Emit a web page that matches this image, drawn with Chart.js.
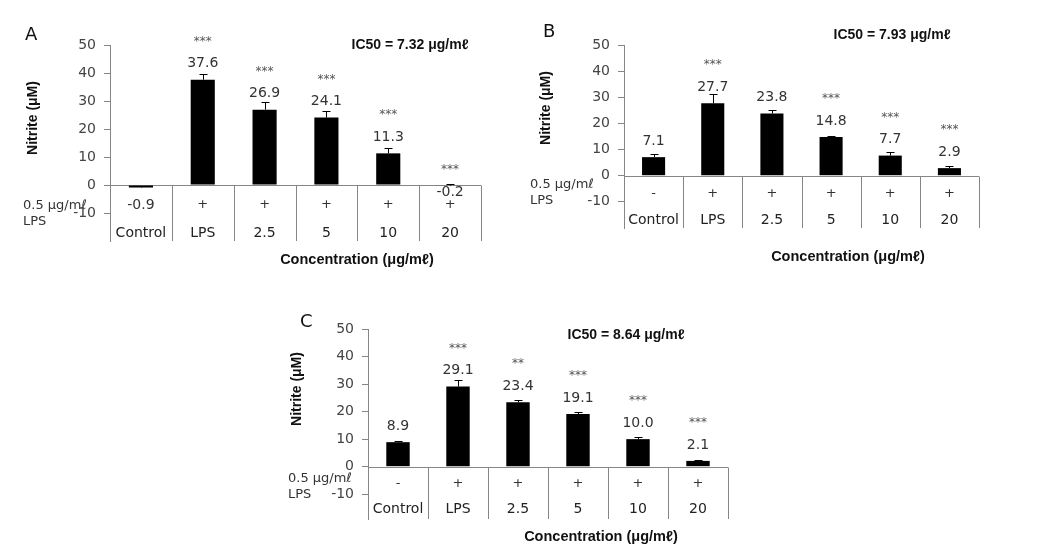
<!DOCTYPE html>
<html>
<head>
<meta charset="utf-8">
<script src="https://cdn.jsdelivr.net/npm/chart.js@4.4.1/dist/chart.umd.min.js"></script>
<style>
  html, body { margin: 0; padding: 0; background: #fff; }
  #wrap { position: relative; width: 1037px; height: 555px; }
  #wrap canvas { position: absolute; left: 0; top: 0; }
</style>
</head>
<body>
<div id="wrap">
  <canvas id="panelA" width="1037" height="555"></canvas>
  <canvas id="panelB" width="1037" height="555"></canvas>
  <canvas id="panelC" width="1037" height="555"></canvas>
</div>
<script>
// values (nitrite, uM)
const categories = ['Control', 'LPS', '2.5', '5', '10', '20'];
const lpsSigns = ['-', '+', '+', '+', '+', '+'];

const nitriteA = [-0.9, 37.6, 26.9, 24.1, 11.3, -0.2];
const errA = [0.4, 1.9, 2.9, 2.3, 1.8, 0.5];
const starsA = ['', '***', '***', '***', '***', '***'];

const nitriteB = [7.1, 27.7, 23.8, 14.8, 7.7, 2.9];
const errB = [1.1, 3.4, 1.3, 0.3, 1.2, 0.8];
const starsB = ['', '***', '', '***', '***', '***'];

const nitriteC = [8.9, 29.1, 23.4, 19.1, 10.0, 2.1];
const errC = [0.6, 2.4, 0.8, 0.6, 0.8, 0.4];
const starsC = ['', '***', '**', '***', '***', '***'];

const ic50 = ['7.32', '7.93', '8.64'];
const yMax = 50;
const yStep = 10;

const W = 1037, H = 555, AXIS_W = 40;
const GREY = '#868686';
const FONT = 'DejaVu Sans';
const BOLD = 'Liberation Sans';

const panels = [
  { id: 'panelA', letter: 'A', values: nitriteA, errors: errA, stars: starsA, ic50: ic50[0], yMin: -20,
    box: { left: 110, right: 481, top: 45, bottom: 241 },
    letterAt: [25, 35], ic50At: [410, 45], yTitleAt: [33, 118], xTitleAt: [357, 260],
    lpsAt: [23, 206], signGap: 20, catGap: 48 },
  { id: 'panelB', letter: 'B', values: nitriteB, errors: errB, stars: starsB, ic50: ic50[1], yMin: -20,
    box: { left: 624, right: 979, top: 45, bottom: 228 },
    letterAt: [543, 32], ic50At: [892, 35], yTitleAt: [546, 108], xTitleAt: [848, 257],
    lpsAt: [530, 185], signGap: 18, catGap: 45 },
  { id: 'panelC', letter: 'C', values: nitriteC, errors: errC, stars: starsC, ic50: ic50[2], yMin: -19,
    box: { left: 368, right: 728, top: 329, bottom: 519 },
    letterAt: [300, 322], ic50At: [626, 335], yTitleAt: [297, 389], xTitleAt: [601, 537],
    lpsAt: [288, 479], signGap: 17, catGap: 43 }
];

function text(ctx, str, x, y, font, color, align) {
  ctx.font = font;
  ctx.fillStyle = color;
  ctx.textAlign = align || 'center';
  ctx.textBaseline = 'middle';
  ctx.fillText(str, x, y);
}

function decor(p) {
  return {
    id: 'decor' + p.letter,
    beforeDatasetsDraw(chart) {
      const { ctx, chartArea, scales: { x, y } } = chart;
      const y0 = Math.round(y.getPixelForValue(0)) + 0.5;
      const half = (x.getPixelForValue(1) - x.getPixelForValue(0)) / 2;
      ctx.save();
      ctx.strokeStyle = GREY;
      ctx.lineWidth = 1;
      ctx.beginPath();
      ctx.moveTo(chartArea.left, y0);
      ctx.lineTo(chartArea.right, y0);
      // cell separators under the zero line
      categories.forEach((c, i) => {
        const ex = Math.round(x.getPixelForValue(i) + half) + 0.5;
        ctx.moveTo(ex, y0);
        ctx.lineTo(ex, chartArea.bottom);
      });
      ctx.stroke();
      ctx.restore();
    },
    afterDatasetsDraw(chart) {
      const { ctx, scales: { x, y } } = chart;
      const y0 = y.getPixelForValue(0);
      const signY = y0 + p.signGap;
      const catY = y0 + p.catGap;
      ctx.save();

      // error bars (plus direction)
      ctx.strokeStyle = '#000';
      ctx.lineWidth = 1;
      p.values.forEach((v, i) => {
        const cx = Math.round(x.getPixelForValue(i)) + 0.5;
        const yb = y.getPixelForValue(v);
        const yt = Math.round(y.getPixelForValue(v + p.errors[i])) + 0.5;
        ctx.beginPath();
        ctx.moveTo(cx, yb);
        ctx.lineTo(cx, yt);
        ctx.moveTo(cx - 4, yt);
        ctx.lineTo(cx + 4, yt);
        ctx.stroke();
      });

      // value labels, significance stars, LPS row, category row
      p.values.forEach((v, i) => {
        const cx = x.getPixelForValue(i);
        let ly, sy, sign = lpsSigns[i];
        if (v >= 0) {
          ly = y.getPixelForValue(v) - 16;
          sy = ly - 24;
        } else if (Math.abs(v) >= 0.5) {
          ly = signY;          // label takes the LPS cell
          sy = y0 - 17;
          sign = '';
        } else {
          ly = y0 + 7;
          sy = y0 - 17;
        }
        text(ctx, v.toFixed(1), cx, ly, '14px "' + FONT + '"', '#333');
        if (p.stars[i]) text(ctx, p.stars[i], cx, sy + 2, '12px "' + FONT + '"', '#555');
        if (sign) text(ctx, sign, cx, signY, '13px "' + FONT + '"', '#333');
        text(ctx, categories[i], cx, catY, '14px "' + FONT + '"', '#222');
      });

      text(ctx, p.letter, p.letterAt[0], p.letterAt[1], '18px "' + FONT + '"', '#111', 'left');
      text(ctx, 'IC50 = ' + p.ic50 + ' \u03bcg/m\u2113', p.ic50At[0], p.ic50At[1], 'bold 14px "' + BOLD + '"', '#111');
      text(ctx, 'Concentration (\u03bcg/m\u2113)', p.xTitleAt[0], p.xTitleAt[1], 'bold 14.5px "' + BOLD + '"', '#111');
      text(ctx, '0.5 \u03bcg/m\u2113', p.lpsAt[0], p.lpsAt[1], '13px "' + FONT + '"', '#333', 'left');
      text(ctx, 'LPS', p.lpsAt[0], p.lpsAt[1] + 16, '13px "' + FONT + '"', '#333', 'left');

      ctx.translate(p.yTitleAt[0], p.yTitleAt[1]);
      ctx.rotate(-Math.PI / 2);
      text(ctx, 'Nitrite (\u03bcM)', 0, 0, 'bold 14px "' + BOLD + '"', '#111');
      ctx.restore();
    }
  };
}

function makeChart(p) {
  return new Chart(document.getElementById(p.id), {
    type: 'bar',
    data: {
      labels: categories,
      datasets: [{
        data: p.values,
        backgroundColor: '#000',
        borderWidth: 0,
        barPercentage: 0.39,
        categoryPercentage: 1
      }]
    },
    options: {
      responsive: false,
      animation: false,
      events: [],
      layout: {
        padding: {
          left: p.box.left - AXIS_W,
          right: W - p.box.right,
          top: p.box.top,
          bottom: H - p.box.bottom
        }
      },
      plugins: { legend: { display: false }, tooltip: { enabled: false } },
      scales: {
        x: { display: false },
        y: {
          min: p.yMin,
          max: yMax,
          afterFit: s => { s.width = AXIS_W; },
          border: { color: GREY, width: 1 },
          grid: { drawOnChartArea: false, drawTicks: true, tickLength: 6, color: GREY },
          ticks: {
            stepSize: yStep,
            padding: 8,
            color: '#444',
            font: { family: FONT, size: 14 },
            callback: v => (v < -10 ? null : v)
          }
        }
      }
    },
    plugins: [decor(p)]
  });
}

panels.forEach(makeChart);
</script>
</body>
</html>
